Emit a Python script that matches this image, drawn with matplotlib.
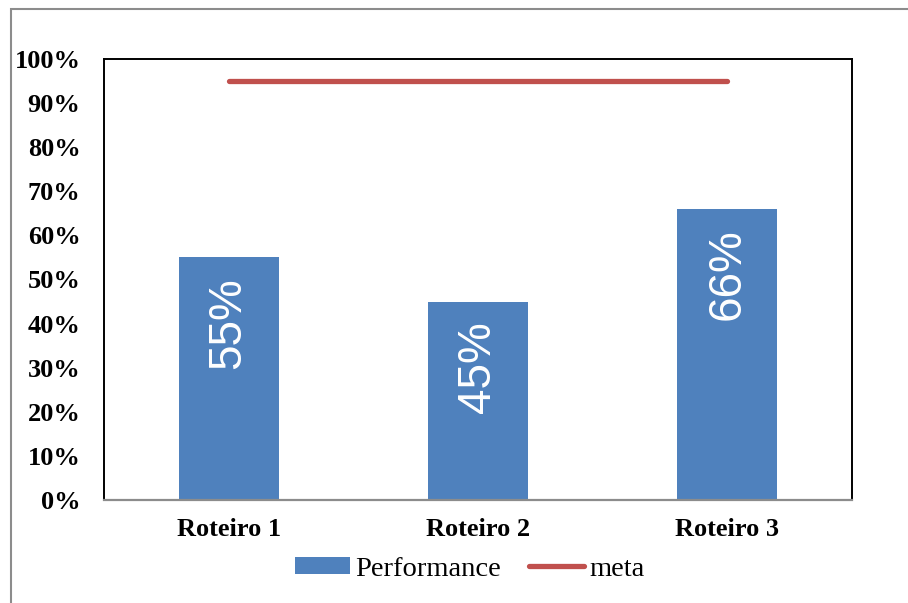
import matplotlib
matplotlib.use("Agg")
import matplotlib.pyplot as plt
from matplotlib.patches import Patch, Rectangle
from matplotlib.lines import Line2D
from matplotlib.ticker import FuncFormatter, MultipleLocator

categories = ["Roteiro 1", "Roteiro 2", "Roteiro 3"]
performance = [0.55, 0.45, 0.66]
meta = [0.95, 0.95, 0.95]
bar_labels = ["55%", "45%", "66%"]

BLUE = "#4F81BD"
RED = "#C0504D"
SERIF = ["Liberation Serif", "DejaVu Serif"]
SANS = ["Liberation Sans", "DejaVu Sans"]

fig = plt.figure(figsize=(9.08, 6.03), dpi=100)
fig.patch.set_facecolor("white")

# outer chart border (top and left visible)
fig.patches.append(Rectangle((10.5 / 908, -0.1), 1.2, 1 - 9.5 / 603 + 0.1,
                             transform=fig.transFigure, fill=False,
                             edgecolor="#8c8c8c", linewidth=1.5, zorder=0))

ax = fig.add_axes([104 / 908, 1 - 500 / 603, 748 / 908, 441 / 603])
x = list(range(len(categories)))
ax.bar(x, performance, width=0.4, color=BLUE, zorder=2)
ax.plot(x, meta, color=RED, linewidth=3.8, solid_capstyle="round", zorder=3)

for xi, v, lab in zip(x, performance, bar_labels):
    ax.annotate(lab, (xi, v), xytext=(0, -14), textcoords="offset points",
                rotation=90, ha="center", va="top", color="white",
                fontsize=33, family=SANS, zorder=4)

ax.set_xlim(-0.5, 2.5)
ax.set_ylim(0, 1.0)
ax.yaxis.set_major_locator(MultipleLocator(0.1))
ax.yaxis.set_major_formatter(FuncFormatter(lambda v, p: f"{v * 100:.0f}%"))
ax.set_xticks(x)
ax.set_xticklabels(categories)
ax.tick_params(axis="y", length=0, pad=17)
ax.tick_params(axis="x", length=0, pad=13)
for lab in ax.get_yticklabels() + ax.get_xticklabels():
    lab.set_family(SERIF)
    lab.set_fontweight("bold")
    lab.set_fontsize(19)

for side in ["left", "top", "right"]:
    ax.spines[side].set_color("black")
    ax.spines[side].set_linewidth(1.4)
ax.spines["bottom"].set_color("#8c8c8c")
ax.spines["bottom"].set_linewidth(1.6)

handles = [Patch(facecolor=BLUE, edgecolor="none"),
           Line2D([0], [0], color=RED, linewidth=3.8, solid_capstyle="round")]
fig.legend(handles, ["Performance", "meta"], loc="center",
           bbox_to_anchor=(470 / 908, 1 - 569 / 603), ncol=2, frameon=False,
           prop={"family": SERIF, "size": 20.5}, handlelength=1.9,
           handleheight=0.55, handletextpad=0.2, columnspacing=1.0,
           borderpad=0, borderaxespad=0)

fig.savefig("out.png", dpi=100, facecolor="white")
